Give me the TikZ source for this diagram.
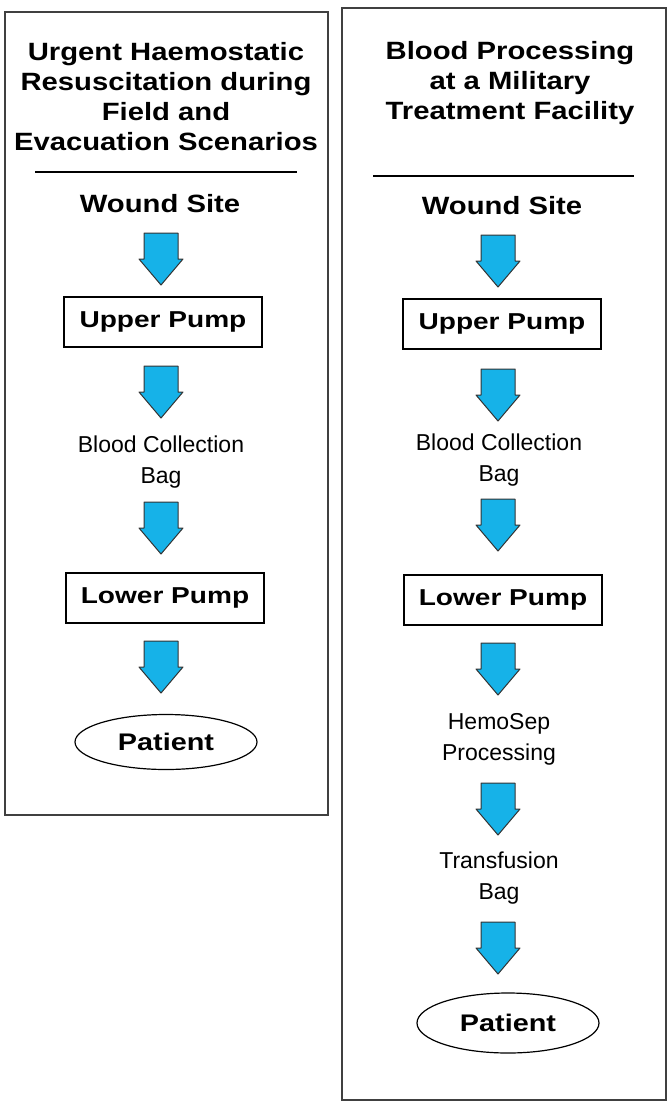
\documentclass[tikz,border=0pt]{standalone}
\usepackage{fontspec}
\setmainfont{Liberation Sans}
\usetikzlibrary{shapes.geometric}
\definecolor{flowblue}{RGB}{22,178,232}

\tikzset{
  flowarrow/.pic={
    \filldraw[draw=black!80, fill=flowblue, line width=1pt, line join=round]
      (-17,-26) -- (17,-26) -- (17,0) -- (22,0) -- (0,26) -- (-22,0) -- (-17,0) -- cycle;
  }
}

\begin{document}
\begin{tikzpicture}[x=1pt,y=-1pt,
  every node/.style={align=center, inner sep=0pt},
  heading/.style={font=\fontsize{25}{30}\selectfont\bfseries\addfontfeature{FakeStretch=1.17}},
  site/.style={font=\fontsize{25}{30}\selectfont\bfseries\addfontfeature{FakeStretch=1.17}},
  stage/.style={font=\fontsize{23}{31}\selectfont},
  pumpbox/.style={draw, line width=1.5pt, minimum width=198, minimum height=50,
    font=\fontsize{23}{30}\selectfont\bfseries\addfontfeature{FakeStretch=1.22}},
  patient/.style={draw, ellipse, line width=1.2pt, minimum width=182, minimum height=55,
    font=\fontsize{24}{30}\selectfont\bfseries\addfontfeature{FakeStretch=1.2}},
  frame/.style={draw=black!75, line width=1.5pt},
  rule/.style={line width=2.5pt}
]
\useasboundingbox (0,0) rectangle (669,1111);

% field and evacuation column
\draw[frame] (5,12) rectangle (328,815);
\node[heading] (fieldtitle) at (166,97)
  {Urgent Haemostatic\\Resuscitation during\\Field and\\Evacuation Scenarios};
\draw[rule] (35,172) -- (297,172);
\node[site] (fieldwound) at (160,204) {Wound Site};
\pic at (161,259) {flowarrow};
\node[pumpbox] (fieldupper) at (163,322) {Upper Pump};
\pic at (161,392) {flowarrow};
\node[stage] (fieldbag) at (161,462) {Blood Collection\\Bag};
\pic at (161,528) {flowarrow};
\node[pumpbox] (fieldlower) at (165,598) {Lower Pump};
\pic at (161,667) {flowarrow};
\node[patient] (fieldpatient) at (166,742) {Patient};

% military treatment facility column
\draw[frame] (342,8) rectangle (666,1100);
\node[heading] (mtftitle) at (510,83)
  {Blood Processing\\at a Military\\Treatment Facility};
\draw[rule] (373,176) -- (634,176);
\node[site] (mtfwound) at (502,206) {Wound Site};
\pic at (498,261) {flowarrow};
\node[pumpbox] (mtfupper) at (502,324) {Upper Pump};
\pic at (498,395) {flowarrow};
\node[stage] (mtfbag) at (499,460) {Blood Collection\\Bag};
\pic at (498,525) {flowarrow};
\node[pumpbox] (mtflower) at (503,600) {Lower Pump};
\pic at (498,669) {flowarrow};
\node[stage] (hemosep) at (499,739) {HemoSep\\Processing};
\pic at (498,809) {flowarrow};
\node[stage] (transbag) at (499,878) {Transfusion\\Bag};
\pic at (498,948) {flowarrow};
\node[patient, minimum height=60] (mtfpatient) at (508,1023) {Patient};
\end{tikzpicture}
\end{document}
